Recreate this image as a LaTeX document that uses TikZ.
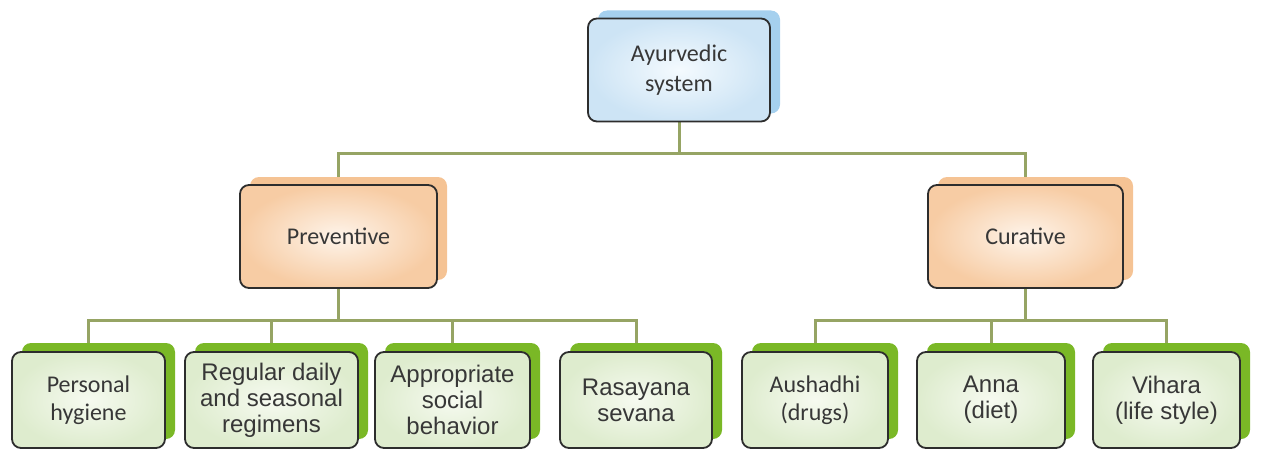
\documentclass[tikz,border=0pt]{standalone}
\usepackage{fontspec}
\setmainfont{Liberation Sans}
\newfontfamily\calfont{Carlito}
\usetikzlibrary{shadows,backgrounds}
\definecolor{lien}{RGB}{150,164,100}
\definecolor{bord}{RGB}{45,45,45}
\definecolor{texte}{RGB}{55,55,55}
\definecolor{bleuC}{RGB}{244,250,254}
\definecolor{bleuF}{RGB}{205,228,245}
\definecolor{bleuO}{RGB}{165,208,238}
\definecolor{pechC}{RGB}{254,244,234}
\definecolor{pechF}{RGB}{247,204,164}
\definecolor{pechO}{RGB}{245,195,148}
\definecolor{vertC}{RGB}{246,250,240}
\definecolor{vertF}{RGB}{222,236,206}
\definecolor{vertO}{RGB}{122,184,38}
\tikzset{
  boite/.style={draw=bord, line width=1.8pt, rounded corners=9pt, align=center, text=texte, inner sep=2pt},
  racine/.style={boite, minimum width=182pt, minimum height=103pt, inner color=bleuC, outer color=bleuF,
    general shadow={fill=bleuO, shadow xshift=10pt, shadow yshift=8pt},
    font=\calfont\fontsize{24}{30}\selectfont},
  branche/.style={boite, minimum width=197pt, minimum height=103pt, inner color=pechC, outer color=pechF,
    general shadow={fill=pechO, shadow xshift=10pt, shadow yshift=8pt},
    font=\calfont\fontsize{24}{30}\selectfont},
  feuille/.style={boite, minimum height=96pt, inner color=vertC, outer color=vertF,
    general shadow={fill=vertO, shadow xshift=10pt, shadow yshift=9pt},
    font=\fontsize{24}{26}\selectfont},
  feuilleC/.style={feuille, font=\calfont\fontsize{24}{28}\selectfont},
  lien/.style={draw=lien, line width=3pt}
}
\begin{document}
\begin{tikzpicture}[x=1pt,y=-1pt]
\useasboundingbox (0,0) rectangle (1262,452);
%Noeuds du diagramme
\node[racine] (AS) at (679,70) {Ayurvedic\\system};
\node[branche] (PR) at (338.5,236.5) {Preventive};
\node[branche, minimum width=195pt] (CU) at (1025.5,236.5) {Curative};
\node[feuilleC, minimum width=153pt] (P1) at (88.5,400) {Personal\\hygiene};
\node[feuille, minimum width=173pt] (P2) at (271.5,400) {Regular daily\\and seasonal\\regimens};
\node[feuille, minimum width=155pt] (P3) at (452.5,400) {Appropriate\\social\\behavior};
\node[feuille, minimum width=152pt] (P4) at (636,400) {Rasayana\\sevana};
\node[feuilleC, minimum width=146pt] (C1) at (815,400) {Aushadhi\\(drugs)};
\node[feuille, minimum width=148pt] (C2) at (991,400) {Anna\\(diet)};
\node[feuille, minimum width=147pt] (C3) at (1166.5,400) {Vihara\\(life style)};
%Barres horizontales
\coordinate (h1) at (0,153);
\coordinate (h2) at (0,320);
%Liens de l'arbre
\begin{scope}[on background layer]
\draw[lien] (AS.south) -- (AS.south |- h1) -| (PR.north);
\draw[lien] (AS.south |- h1) -| (CU.north);
\draw[lien] (PR.south) -- (PR.south |- h2) -| (P1.north);
\draw[lien] (PR.south |- h2) -| (P2.north);
\draw[lien] (PR.south |- h2) -| (P3.north);
\draw[lien] (PR.south |- h2) -| (P4.north);
\draw[lien] (CU.south) -- (CU.south |- h2) -| (C1.north);
\draw[lien] (CU.south |- h2) -| (C2.north);
\draw[lien] (CU.south |- h2) -| (C3.north);
\end{scope}
\end{tikzpicture}
\end{document}
